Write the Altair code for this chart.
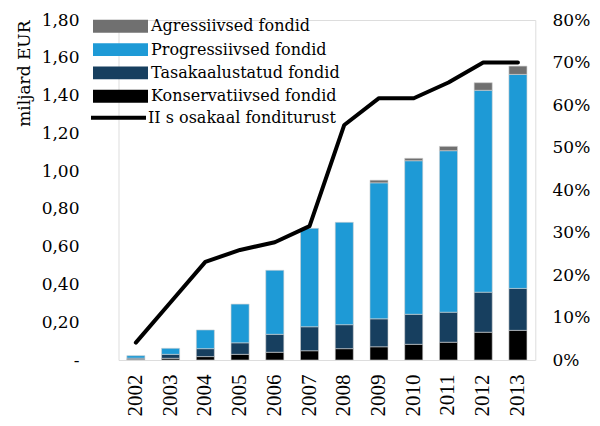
import altair as alt
import pandas as pd

years = ["2002", "2003", "2004", "2005", "2006", "2007",
         "2008", "2009", "2010", "2011", "2012", "2013"]

series_names = ["Agressiivsed fondid", "Progressiivsed fondid",
                "Tasakaalustatud fondid", "Konservatiivsed fondid"]
series_colors = ["#707070", "#1E9AD6", "#173F5F", "#000000"]

konservatiivsed = [0.004, 0.009, 0.018, 0.030, 0.041, 0.049, 0.060, 0.070, 0.083, 0.094, 0.147, 0.157]
tasakaalustatud = [0.006, 0.021, 0.042, 0.061, 0.095, 0.127, 0.127, 0.148, 0.159, 0.159, 0.212, 0.222]
progressiivsed = [0.013, 0.032, 0.099, 0.205, 0.339, 0.521, 0.542, 0.720, 0.813, 0.855, 1.069, 1.133]
agressiivsed = [0.0, 0.0, 0.0, 0.0, 0.0, 0.0, 0.0, 0.014, 0.013, 0.023, 0.040, 0.044]

line_name = "II s osakaal fonditurust"
osakaal = [0.041, 0.136, 0.231, 0.259, 0.277, 0.315, 0.553, 0.616, 0.616, 0.653, 0.700, 0.700]

left_ticks = [0, 0.2, 0.4, 0.6, 0.8, 1.0, 1.2, 1.4, 1.6, 1.8]
right_ticks = [0, 0.1, 0.2, 0.3, 0.4, 0.5, 0.6, 0.7, 0.8]

rows = []
for order, (name, vals) in enumerate([
    ("Konservatiivsed fondid", konservatiivsed),
    ("Tasakaalustatud fondid", tasakaalustatud),
    ("Progressiivsed fondid", progressiivsed),
    ("Agressiivsed fondid", agressiivsed),
]):
    for y, v in zip(years, vals):
        if v > 0:
            rows.append({"aasta": y, "fond": name, "vaartus": v, "jrk": order})
bars_df = pd.DataFrame(rows)
line_df = pd.DataFrame({"aasta": years, "osakaal": osakaal, "seeria": [line_name] * len(years)})

FONT = "DejaVu Serif"

x_axis = alt.Axis(title=None, labelAngle=270, labelFont="Liberation Serif", labelFontSize=21,
                  labelPadding=14, ticks=False, domain=False, grid=False, labelColor="black",
                  labelAlign="right", labelBaseline="middle")

bars = alt.Chart(bars_df).mark_bar(stroke="#d0d0d0", strokeWidth=0.6).encode(
    x=alt.X("aasta:N", sort=years, scale=alt.Scale(paddingInner=0.48, paddingOuter=0.24), axis=x_axis),
    y=alt.Y("vaartus:Q", stack="zero",
            scale=alt.Scale(domain=[0, 1.8], nice=False, zero=True),
            axis=alt.Axis(title="miljard EUR", values=left_ticks,
                          labelExpr="datum.value == 0 ? '-' : replace(format(datum.value, '.2f'), '.', ',')",
                          labelFont=FONT, labelFontSize=17, labelColor="black",
                          labelPadding=39.5, ticks=False, domain=False, grid=False,
                          titleFont=FONT, titleFontSize=17, titleFontWeight="normal", titleColor="black",
                          titleAngle=270, titleAlign="right", titleBaseline="middle",
                          titleX=-94.5, titleY=0)),
    color=alt.Color("fond:N", scale=alt.Scale(domain=series_names, range=series_colors),
                    legend=alt.Legend(orient="none", legendX=-25.5, legendY=-1.7, title=None,
                                      symbolType="M-1,-0.235H1V0.235H-1Z", symbolSize=3025,
                                      symbolStrokeWidth=0, symbolOpacity=1, clipHeight=16,
                                      rowPadding=7.3, labelFont=FONT, labelFontSize=16,
                                      labelOffset=3, padding=0, labelColor="black", labelLimit=400)),
    order=alt.Order("jrk:Q", sort="ascending"),
)

line = alt.Chart(line_df).mark_line(strokeWidth=4, strokeJoin="round", strokeCap="round").encode(
    x=alt.X("aasta:N", sort=years),
    y=alt.Y("osakaal:Q", scale=alt.Scale(domain=[0, 0.8], nice=False),
            axis=alt.Axis(orient="right", title=None, values=right_ticks, format=".0%",
                          labelFont=FONT, labelFontSize=17, labelColor="black",
                          labelPadding=16.7, ticks=False, domain=False, grid=False)),
    color=alt.Color("seeria:N", scale=alt.Scale(domain=[line_name], range=["#000000"]),
                    legend=alt.Legend(orient="none", legendX=-29.5, legendY=89.7, title=None,
                                      symbolType="stroke", symbolSize=3025, symbolStrokeWidth=4,
                                      clipHeight=16, labelFont=FONT, labelFontSize=16,
                                      labelOffset=0, padding=0, labelColor="black", labelLimit=400)),
)

chart = alt.layer(bars, line).resolve_scale(
    y="independent", color="independent"
).resolve_legend(color="independent").properties(
    width=416.8, height=340,
    padding={"left": 110.5, "top": 12, "right": 56.7, "bottom": 58},
    autosize=alt.AutoSizeParams(type="none"),
).configure_view(stroke="transparent", strokeWidth=0).configure_axis(
    domain=False, grid=False
).configure(background="white")

chart.save("out.html", embed_options={"renderer": "svg", "actions": False})
